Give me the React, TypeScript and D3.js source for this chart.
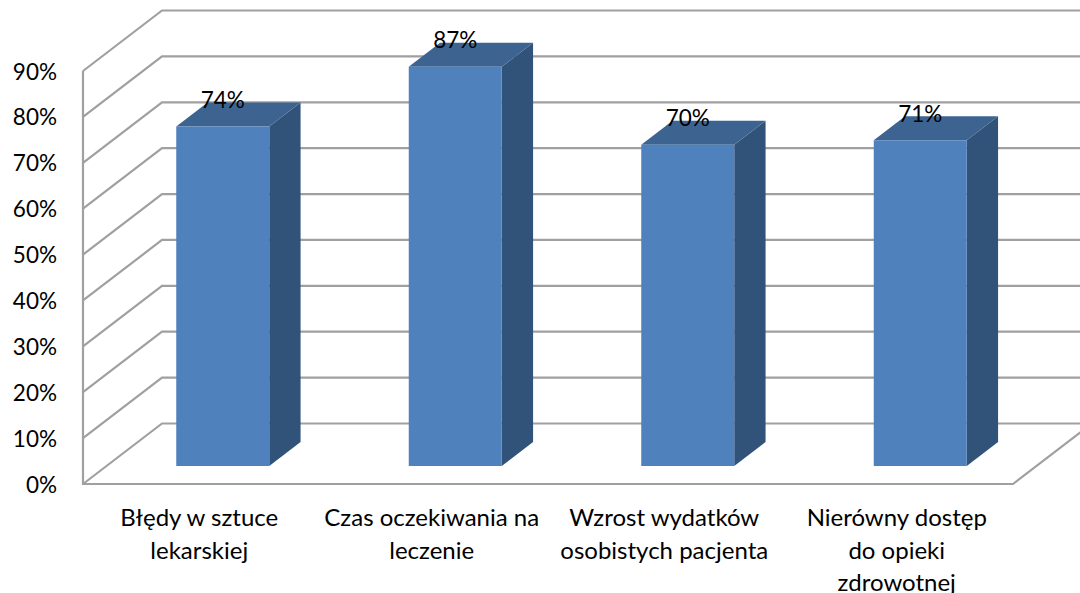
import React from "react";
import * as d3 from "d3";

const categories = [
  "Błędy w sztuce lekarskiej",
  "Czas oczekiwania na leczenie",
  "Wzrost wydatków osobistych pacjenta",
  "Nierówny dostęp do opieki zdrowotnej",
];
const categoryLines = [
  ["Błędy w sztuce", "lekarskiej"],
  ["Czas oczekiwania na", "leczenie"],
  ["Wzrost wydatków", "osobistych pacjenta"],
  ["Nierówny dostęp", "do opieki", "zdrowotnej"],
];
const values = [74, 87, 70, 71];
const valueLabels = ["74%", "87%", "70%", "71%"];
const ticks = [0, 10, 20, 30, 40, 50, 60, 70, 80, 90];

const WIDTH = 1080;
const HEIGHT = 593;
const FONT = "Lato, 'Open Sans', sans-serif";
const FONT_SIZE = 22.5;
const CATEGORY_FONT_SIZE = 24;
const GRID = "#a0a0a0";
const FRONT = "#4f81bd";
const TOP = "#3d6491";
const SIDE = "#325379";

// Oblique projection: depth runs from 0 (front of floor) to 1 (back wall).
const DEPTH_X = 79;
const DEPTH_Y = -60.5;
const BAR_NEAR = 0.2975;
const BAR_FAR = 0.694;

const x = d3.scaleBand<string>().domain(categories).range([83, 1013]).paddingInner(0.6).paddingOuter(0.3);
const y = d3.scaleLinear().domain([0, 90]).range([484, 71]);

const project = (px: number, value: number, depth: number): [number, number] => [
  px + DEPTH_X * depth,
  y(value) + DEPTH_Y * depth,
];

const poly = (pts: [number, number][]) => d3.line()(pts) + "Z";

export default function App() {
  const [x0, x1] = x.range();
  return (
    <svg
      width={WIDTH}
      height={HEIGHT}
      viewBox={`0 0 ${WIDTH} ${HEIGHT}`}
      style={{ position: "absolute", left: 0, top: 0, display: "block", background: "#fff" }}
    >
      {/* gridlines wrapping from the side wall onto the back wall */}
      {ticks.map((t) => {
        const pts: [number, number][] = [project(x0, t, 0), project(x0, t, 1), project(x1, t, 1)];
        return <path key={t} d={d3.line()(pts)!} fill="none" stroke={GRID} strokeWidth={2.2} />;
      })}
      {/* axis edge and floor outline */}
      <path
        d={d3.line()([project(x0, 90, 0), project(x0, 0, 0), project(x1, 0, 0), project(x1, 0, 1)])!}
        fill="none"
        stroke={GRID}
        strokeWidth={2.2}
      />
      {ticks.map((t) => (
        <text
          key={t}
          x={57}
          y={y(t) + 8.5}
          textAnchor="end"
          fontFamily={FONT}
          fontSize={FONT_SIZE}
          fill="#000"
        >
          {t}%
        </text>
      ))}
      {categories.map((c, i) => {
        const l = x(c)!;
        const r = l + x.bandwidth();
        const v = values[i];
        const front: [number, number][] = [
          project(l, 0, BAR_NEAR),
          project(r, 0, BAR_NEAR),
          project(r, v, BAR_NEAR),
          project(l, v, BAR_NEAR),
        ];
        const top: [number, number][] = [
          project(l, v, BAR_NEAR),
          project(r, v, BAR_NEAR),
          project(r, v, BAR_FAR),
          project(l, v, BAR_FAR),
        ];
        const side: [number, number][] = [
          project(r, 0, BAR_NEAR),
          project(r, 0, BAR_FAR),
          project(r, v, BAR_FAR),
          project(r, v, BAR_NEAR),
        ];
        const labelX = (l + r) / 2 + DEPTH_X * BAR_NEAR;
        return (
          <g key={c}>
            <path d={poly(side)} fill={SIDE} />
            <path d={poly(top)} fill={TOP} />
            <path d={poly(front)} fill={FRONT} />
            <text
              x={labelX}
              y={y(v) + DEPTH_Y * BAR_FAR + 5.5}
              textAnchor="middle"
              fontFamily={FONT}
              fontSize={FONT_SIZE}
              fill="#000"
            >
              {valueLabels[i]}
            </text>
          </g>
        );
      })}
      {categories.map((c, i) => (
        <text
          key={c}
          textAnchor="middle"
          fontFamily={FONT}
          fontSize={CATEGORY_FONT_SIZE}
          fill="#000"
        >
          {categoryLines[i].map((line, j) => (
            <tspan key={line} x={x(c)! + x.bandwidth() / 2} y={526 + j * 32.5}>
              {line}
            </tspan>
          ))}
        </text>
      ))}
    </svg>
  );
}
